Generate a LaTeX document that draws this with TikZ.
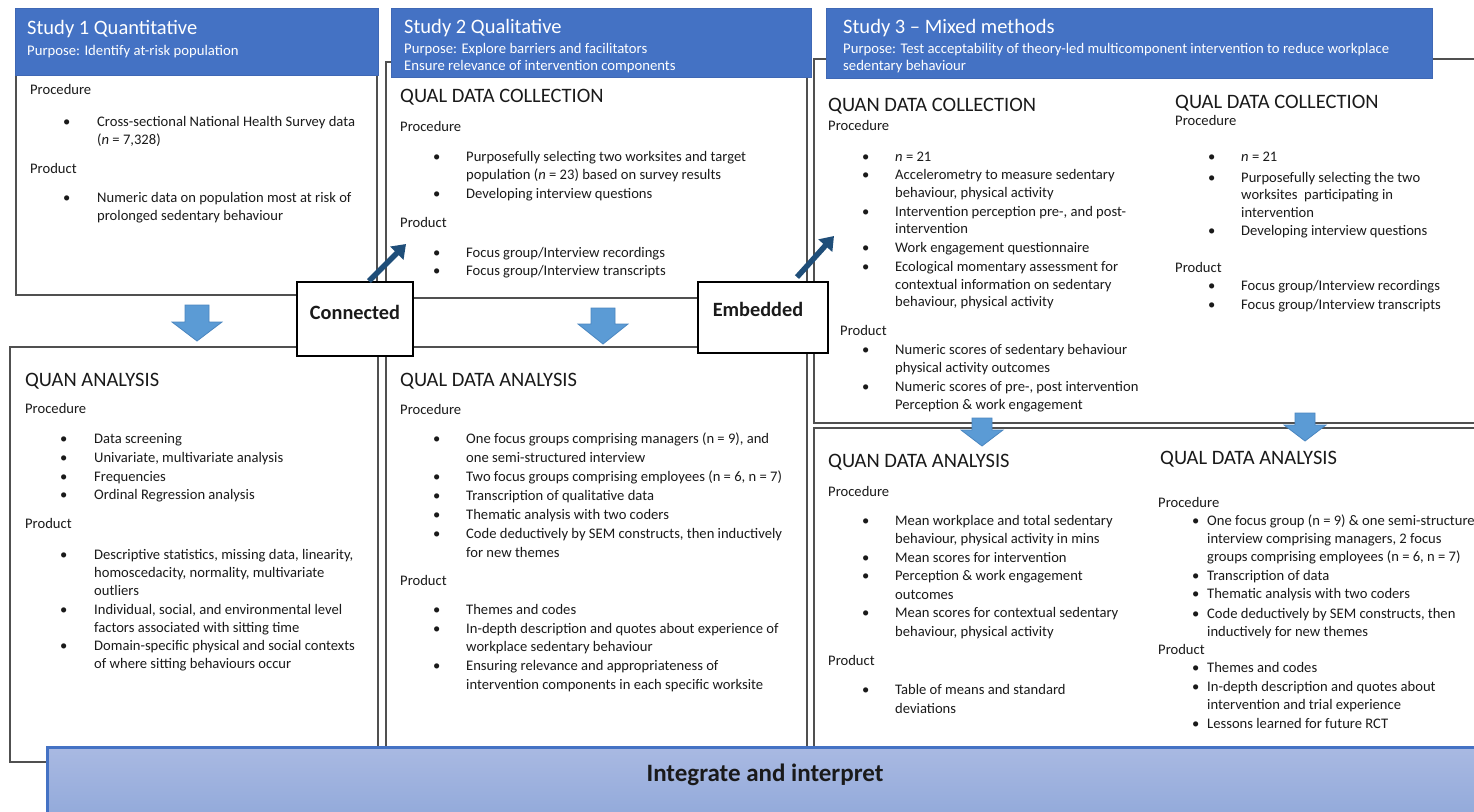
\documentclass[tikz,border=0pt]{standalone}
\usepackage{fontspec}
\setmainfont{Carlito}
\usetikzlibrary{calc,arrows.meta}
\definecolor{hdr}{HTML}{4472C4}
\definecolor{hdrb}{HTML}{3F68B5}
\definecolor{darr}{HTML}{1F4E79}
\definecolor{larr}{HTML}{5B9BD5}
\definecolor{larrb}{HTML}{4A86C0}
\definecolor{frm}{HTML}{505050}
\definecolor{txt}{HTML}{1A1A1A}
\definecolor{barTop}{HTML}{A9B9E2}
\definecolor{barBot}{HTML}{8BA5D8}
\tikzset{
  body/.style={font=\fontsize{14.6}{17}\selectfont, text=txt, anchor=base west, inner sep=0pt},
  ttl/.style={font=\fontsize{20.5}{24}\selectfont, text=txt, anchor=base west, inner sep=0pt},
  htitle/.style={font=\fontsize{20.5}{24}\selectfont, text=white, anchor=base west, inner sep=0pt},
  hpurp/.style={font=\fontsize{14.7}{17}\selectfont, text=white, anchor=base west, inner sep=0pt},
  hdrbox/.style={fill=hdr, draw=hdrb, line width=0.6pt, anchor=north west, inner sep=0pt},
  frame/.style={draw=frm, line width=1.3pt},
  cbox/.style={draw=black, fill=white, line width=1.8pt, inner sep=0pt},
  clabel/.style={font=\bfseries\fontsize{20.3}{24}\selectfont, text=txt, inner sep=0pt},
  darrow/.style={draw=darr, line width=5.5pt, -{Triangle[length=13pt,width=18pt]}},
  darrowhead/.style={fill=larr, draw=larrb, line width=0.8pt},
}
\newcounter{tn}
\newcommand{\TL}[3]{\stepcounter{tn}\node[body] (t\arabic{tn}) at (#1,#2+4.6) {#3};}
\newcommand{\TT}[3]{\stepcounter{tn}\node[ttl] (t\arabic{tn}) at (#1,#2+7) {#3};}
\newcommand{\BL}[4]{\stepcounter{tn}\node[body] (b\arabic{tn}) at (#1,#3+4.6) {\textbullet};\TL{#2}{#3}{#4}}
\newcommand{\DA}[6]{\path[darrowhead] (#1-#5,#2) -- (#1+#5,#2) -- (#1+#5,#3) -- (#1+#6,#3) -- (#1,#4) -- (#1-#6,#3) -- (#1-#5,#3) -- cycle;}
\begin{document}
\begin{tikzpicture}[x=1pt,y=-1pt]
\useasboundingbox (0,0) rectangle (1474,811);
\clip (0,0) rectangle (1474,811);
\fill[white] (0,0) rectangle (1474,811);

% ---------- frames ----------
\draw[frame] (16,40) rectangle (377,295);
\draw[frame] (10,347) rectangle (378,762);
\draw[frame] (386,62) rectangle (807,298);
\draw[frame] (386,347) rectangle (807,760);
\draw[frame] (814,59) rectangle (1490,423);
\draw[frame] (814,428) rectangle (1490,760);

% ---------- headers ----------
\node[hdrbox, minimum width=363pt, minimum height=67pt] (h1) at (15,8) {};
\node[hdrbox, minimum width=420pt, minimum height=69pt] (h2) at (391,8) {};
\node[hdrbox, minimum width=606pt, minimum height=70pt] (h3) at (826,8) {};

\node[htitle] (h1t) at (27,34) {Study 1 Quantitative};
\node[hpurp] (h1p) at (27,55) {Purpose: Identify at-risk population};

\node[htitle] (h2t) at (404,33) {Study 2 Qualitative};
\node[hpurp] (h2p) at (404,53) {Purpose: Explore barriers and facilitators};
\node[hpurp] (h2q) at (404,70) {Ensure relevance of intervention components};

\node[htitle] (h3t) at (843,33) {Study 3 -- Mixed methods};
\node[hpurp] (h3p) at (843,53) {Purpose: Test acceptability of theory-led multicomponent intervention to reduce workplace};
\node[hpurp] (h3q) at (843,70) {sedentary behaviour};

% ---------- Study 1 top ----------
\TL{30}{90}{Procedure}
\BL{63}{97}{122}{Cross-sectional National Health Survey data}
\TL{97}{140}{(\textit{n} = 7,328)}
\TL{30}{169}{Product}
\BL{63}{97}{198}{Numeric data on population most at risk of}
\TL{97}{216}{prolonged sedentary behaviour}

% ---------- Study 1 bottom ----------
\TT{25}{379}{QUAN ANALYSIS}
\TL{25}{409}{Procedure}
\BL{60}{94}{439}{Data screening}
\BL{60}{94}{458}{Univariate, multivariate analysis}
\BL{60}{94}{477}{Frequencies}
\BL{60}{94}{495}{Ordinal Regression analysis}
\TL{25}{524}{Product}
\BL{60}{94}{555}{Descriptive statistics, missing data, linearity,}
\TL{94}{573}{homoscedacity, normality, multivariate}
\TL{94}{591}{outliers}
\BL{60}{94}{610}{Individual, social, and environmental level}
\TL{94}{628}{factors associated with sitting time}
\BL{60}{94}{646}{Domain-specific physical and social contexts}
\TL{94}{664}{of where sitting behaviours occur}

% ---------- Study 2 top ----------
\TT{400}{95}{QUAL DATA COLLECTION}
\TL{400}{127}{Procedure}
\BL{433}{466}{157}{Purposefully selecting two worksites and target}
\TL{466}{175}{population (\textit{n} = 23) based on survey results}
\BL{433}{466}{194}{Developing interview questions}
\TL{400}{223}{Product}
\BL{433}{466}{253}{Focus group/Interview recordings}
\BL{433}{466}{271}{Focus group/Interview transcripts}

% ---------- Study 2 bottom ----------
\TT{400}{379}{QUAL DATA ANALYSIS}
\TL{400}{410}{Procedure}
\BL{433}{466}{439}{One focus groups comprising managers (n = 9), and}
\TL{466}{458}{one semi-structured interview}
\BL{433}{466}{477}{Two focus groups comprising employees (n = 6, n = 7)}
\BL{433}{466}{496}{Transcription of qualitative data}
\BL{433}{466}{515}{Thematic analysis with two coders}
\BL{433}{466}{534}{Code deductively by SEM constructs, then inductively}
\TL{466}{553}{for new themes}
\TL{400}{581}{Product}
\BL{433}{466}{610}{Themes and codes}
\BL{433}{466}{629}{In-depth description and quotes about experience of}
\TL{466}{647}{workplace sedentary behaviour}
\BL{433}{466}{666}{Ensuring relevance and appropriateness of}
\TL{466}{685}{intervention components in each specific worksite}

% ---------- Study 3 top left ----------
\TT{828}{104}{QUAN DATA COLLECTION}
\TL{828}{126}{Procedure}
\BL{862}{895}{157}{\textit{n} = 21}
\BL{862}{895}{175}{Accelerometry to measure sedentary}
\TL{895}{193}{behaviour, physical activity}
\BL{862}{895}{212}{Intervention perception pre-, and post-}
\TL{895}{229}{intervention}
\BL{862}{895}{248}{Work engagement questionnaire}
\BL{862}{895}{267}{Ecological momentary assessment for}
\TL{895}{285}{contextual information on sedentary}
\TL{895}{302}{behaviour, physical activity}
\TL{840}{331}{Product}
\BL{862}{895}{350}{Numeric scores of sedentary behaviour}
\TL{895}{368}{physical activity outcomes}
\BL{862}{895}{387}{Numeric scores of pre-, post intervention}
\TL{895}{405}{Perception \& work engagement}

% ---------- Study 3 top right ----------
\TT{1175}{101}{QUAL DATA COLLECTION}
\TL{1175}{121}{Procedure}
\BL{1208}{1241}{157}{\textit{n} = 21}
\BL{1208}{1241}{178}{Purposefully selecting the two}
\TL{1241}{195}{worksites\ \ participating in}
\TL{1241}{213}{intervention}
\BL{1208}{1241}{231}{Developing interview questions}
\TL{1175}{268}{Product}
\BL{1208}{1241}{286}{Focus group/Interview recordings}
\BL{1208}{1241}{305}{Focus group/Interview transcripts}

% ---------- Study 3 bottom left ----------
\TT{828}{460}{QUAN DATA ANALYSIS}
\TL{828}{492}{Procedure}
\BL{862}{895}{521}{Mean workplace and total sedentary}
\TL{895}{539}{behaviour, physical activity in mins}
\BL{862}{895}{558}{Mean scores for intervention}
\BL{862}{895}{576}{Perception \& work engagement}
\TL{895}{595}{outcomes}
\BL{862}{895}{613}{Mean scores for contextual sedentary}
\TL{895}{632}{behaviour, physical activity}
\TL{828}{661}{Product}
\BL{862}{895}{690}{Table of means and standard}
\TL{895}{709}{deviations}

% ---------- Study 3 bottom right ----------
\TT{1160}{457}{QUAL DATA ANALYSIS}
\TL{1158}{503}{Procedure}
\BL{1192}{1207}{521}{One focus group (n = 9) \& one semi-structured}
\TL{1207}{539}{interview comprising managers, 2 focus}
\TL{1207}{557}{groups comprising employees (n = 6, n = 7)}
\BL{1192}{1207}{576}{Transcription of data}
\BL{1192}{1207}{594}{Thematic analysis with two coders}
\BL{1192}{1207}{614}{Code deductively by SEM constructs, then}
\TL{1207}{632}{inductively for new themes}
\TL{1158}{650}{Product}
\BL{1192}{1207}{668}{Themes and codes}
\BL{1192}{1207}{687}{In-depth description and quotes about}
\TL{1207}{705}{intervention and trial experience}
\BL{1192}{1207}{724}{Lessons learned for future RCT}

% ---------- down block arrows ----------
\DA{197}{305}{322}{341}{12}{25}
\DA{603}{308}{324}{344}{12}{25}
\DA{982}{418}{430}{446}{10}{21}
\DA{1305}{413}{425}{441}{10}{21}

% ---------- Connected / Embedded ----------
\node[cbox, minimum width=116pt, minimum height=74pt] (conn) at (355,319) {};
\node[clabel] (connl) at (355,312) {Connected};
\node[cbox, minimum width=130pt, minimum height=71pt] (emb) at (763,317.5) {};
\node[clabel] (embl) at (758,309) {Embedded};

\coordinate (s2) at (406,244);
\coordinate (s3) at (834,236);
\draw[darrow] ($(conn.north)+(14,0)$) -- (s2);
\draw[darrow] ($(emb.north)+(34,-4)$) -- (s3);

% ---------- integrate bar ----------
\node[anchor=north west, minimum width=1460pt, minimum height=90pt, inner sep=0pt,
      top color=barTop, bottom color=barBot, draw=hdr, line width=3pt] (bar) at (46,746) {};
\node[font=\bfseries\fontsize{25}{30}\selectfont, text=txt, inner sep=0pt] (barl) at (765,775) {Integrate and interpret};
\end{tikzpicture}
\end{document}
